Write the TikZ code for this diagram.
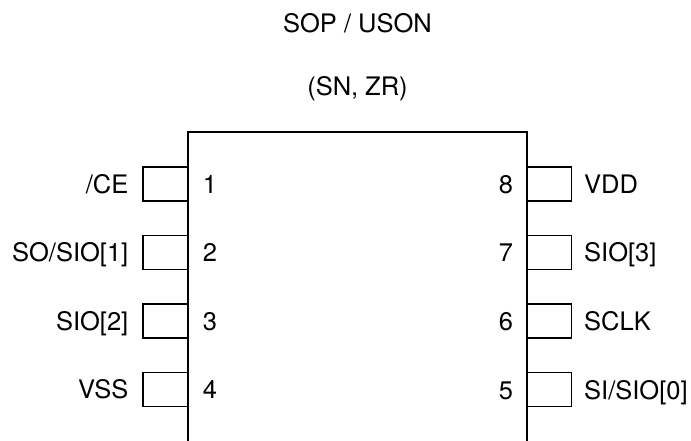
\documentclass[tikz,border=0pt]{standalone}
\usepackage{fontspec}
\setmainfont{TeX Gyre Heros}

\begin{document}
\begin{tikzpicture}[x=1pt,y=1pt,
    pinbox/.style={draw, line width=1.5pt, minimum width=45pt, minimum height=34pt, inner sep=0pt},
    txt/.style={font=\fontsize{25.5}{30}\selectfont, inner sep=0pt}]
    \useasboundingbox (0,0) rectangle (691,441);
    \node[txt, anchor=base] (title) at (357.5,408) {SOP / USON};
    \node[txt, anchor=base] (pkg) at (357.5,345) {(SN, ZR)};
    % package outline, open at the bottom
    \coordinate (bl) at (188,0);
    \coordinate (tl) at (188,309);
    \coordinate (tr) at (527,309);
    \coordinate (br) at (527,0);
    \draw[line width=1.5pt] (bl) -- (tl) -- (tr) -- (br);
    % left side
    \node[pinbox] (pin1) at (165.5,257) {};
    \node[pinbox] (pin2) at (165.5,188.5) {};
    \node[pinbox] (pin3) at (165.5,120) {};
    \node[pinbox] (pin4) at (165.5,51.5) {};
    \node[txt, anchor=base] (num1) at (210,247.5) {1};
    \node[txt, anchor=base] (num2) at (210,179) {2};
    \node[txt, anchor=base] (num3) at (210,110.5) {3};
    \node[txt, anchor=base] (num4) at (210,42) {4};
    \node[txt, anchor=base east] (lab1) at (128.5,247.5) {/CE};
    \node[txt, anchor=base east] (lab2) at (128.5,179) {SO/SIO[1]};
    \node[txt, anchor=base east] (lab3) at (128.5,110.5) {SIO[2]};
    \node[txt, anchor=base east] (lab4) at (128.5,42) {VSS};
    % right side
    \node[pinbox] (pin8) at (549,257) {};
    \node[pinbox] (pin7) at (549,188.5) {};
    \node[pinbox] (pin6) at (549,120) {};
    \node[pinbox] (pin5) at (549,51.5) {};
    \node[txt, anchor=base] (num8) at (506,247.5) {8};
    \node[txt, anchor=base] (num7) at (506,179) {7};
    \node[txt, anchor=base] (num6) at (506,110.5) {6};
    \node[txt, anchor=base] (num5) at (506,41) {5};
    \node[txt, anchor=base west] (lab8) at (584,247.5) {VDD};
    \node[txt, anchor=base west] (lab7) at (584,179) {SIO[3]};
    \node[txt, anchor=base west] (lab6) at (584,110.5) {SCLK};
    \node[txt, anchor=base west] (lab5) at (584,41) {SI/SIO[0]};
\end{tikzpicture}
\end{document}
